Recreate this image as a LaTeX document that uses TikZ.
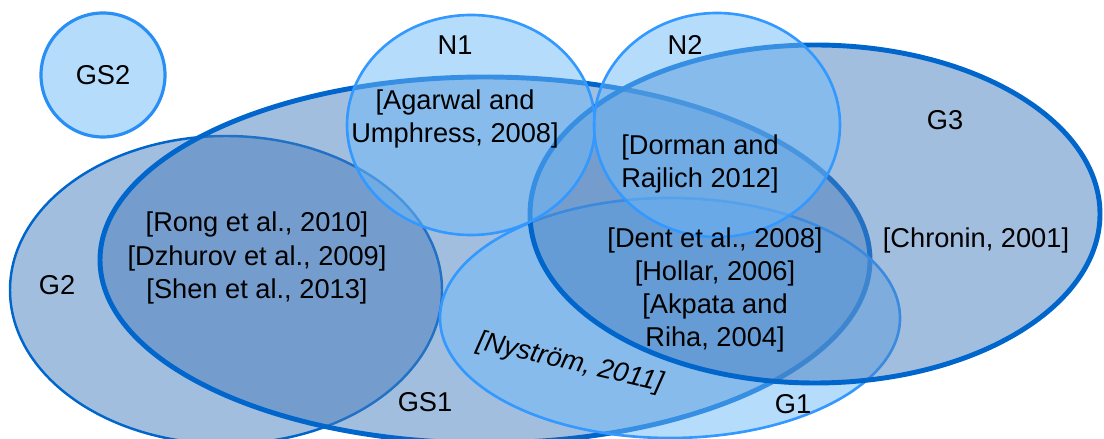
\documentclass[tikz,border=0pt]{standalone}
\usepackage{fontspec}
\setmainfont{Liberation Sans}
\definecolor{darkrim}{RGB}{0,102,204}
\definecolor{lightrim}{RGB}{51,153,255}
\definecolor{greyfill}{RGB}{70,125,190}
\definecolor{skyfill}{RGB}{110,185,250}
\begin{document}
\begin{tikzpicture}[
    bigset/.style={draw=darkrim, fill=greyfill, fill opacity=0.5, line width=2.8pt},
    smallset/.style={draw=lightrim, fill=skyfill, fill opacity=0.5, line width=1.5pt},
    lbl/.style={font=\fontsize{15.5}{18.8}\selectfont, align=center, inner sep=0pt}]

  \useasboundingbox (0,0) rectangle (22.08,8.78);

  % sets
  \draw[bigset, line width=1.4pt] (4.52,2.98) ellipse [x radius=4.32, y radius=3.08];
  \draw[bigset] (9.70,3.58) ellipse [x radius=7.70, y radius=3.66];
  \draw[smallset] (13.40,2.42) ellipse [x radius=4.60, y radius=2.40];
  \draw[bigset] (16.30,4.50) ellipse [x radius=5.70, y radius=3.38];
  \draw[smallset] (9.42,6.28) ellipse [x radius=2.48, y radius=2.20];
  \draw[smallset] (14.34,6.28) ellipse [x radius=2.46, y radius=2.24];
  \draw[smallset, draw=lightrim!80!darkrim, line width=1.8pt] (2.06,7.28) circle [radius=1.24];

  % set names
  \node[lbl] (gs2) at (2.06,7.28) {GS2};
  \node[lbl] (n1)  at (9.10,7.88) {N1};
  \node[lbl] (n2)  at (13.70,7.88) {N2};
  \node[lbl] (g3)  at (18.90,6.38) {G3};
  \node[lbl] (g2)  at (1.14,3.08) {G2};
  \node[lbl] (gs1) at (8.50,0.74) {GS1};
  \node[lbl] (g1)  at (15.86,0.70) {G1};

  % references
  \node[lbl] (agarwal) at (9.10,6.40) {[Agarwal and\\{Umphress, 2008]}};
  \node[lbl] (dorman)  at (14.00,5.50) {[Dorman and\\{Rajlich 2012]}};
  \node[lbl] (rong)    at (5.14,3.62) {[Rong et al., 2010]\\{[Dzhurov et al., 2009]}\\{[Shen et al., 2013]}};
  \node[lbl] (dent)    at (14.30,2.98) {[Dent et al., 2008]\\{[Hollar, 2006]}\\{[Akpata and}\\{Riha, 2004]}};
  \node[lbl] (chronin) at (19.52,3.98) {[Chronin, 2001]};
  \node[lbl, rotate=-13, font=\fontsize{15.5}{18.8}\selectfont\itshape] (nystrom) at (11.40,1.52) {[Nyström, 2011]};
\end{tikzpicture}
\end{document}
